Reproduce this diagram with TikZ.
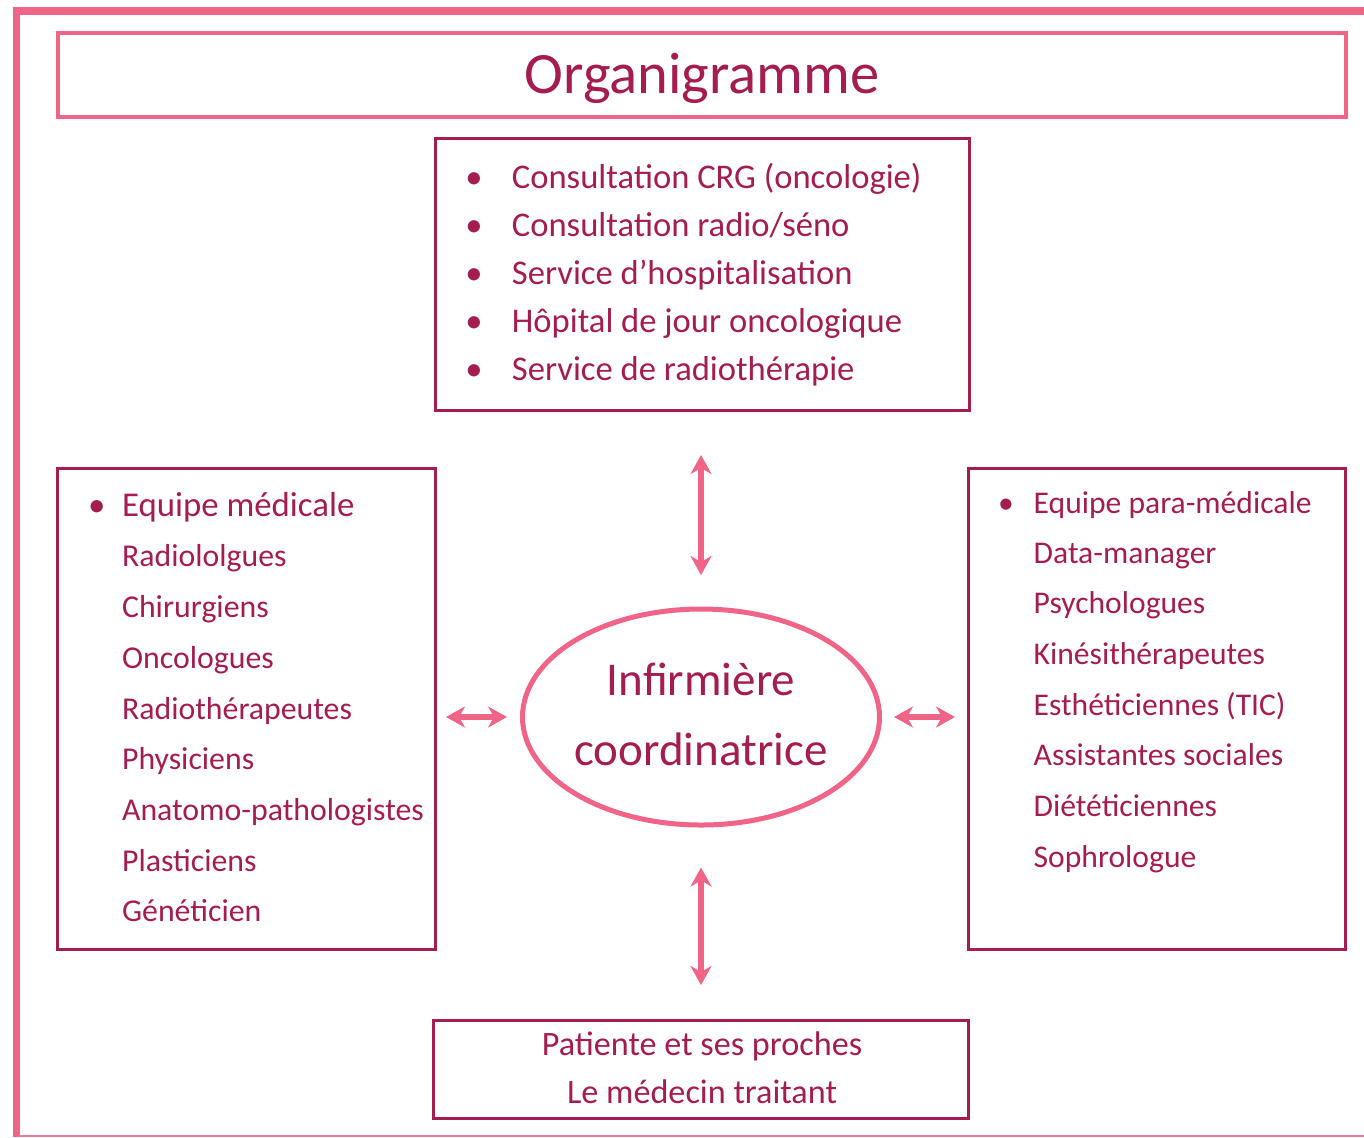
\documentclass[tikz,border=0pt]{standalone}
\usepackage{fontspec}
\setmainfont{Carlito}
\usepackage{tikz}
\usetikzlibrary{shapes.geometric}
\usetikzlibrary{arrows.meta}
\definecolor{rosefr}{HTML}{F06487}
\definecolor{bordeaux}{HTML}{A51C50}
\tikzset{>={Stealth[length=9.5pt,width=10.5pt,inset=3pt]}}

\begin{document}
\begin{tikzpicture}[x=0.5pt,y=-0.5pt,line join=miter,
	cadre/.style={draw=bordeaux,line width=1.5pt,inner sep=0pt,outer sep=0pt},
	texte/.style={inner sep=0pt,text=bordeaux},
	liste/.style={texte,anchor=base west,font=\fontsize{17.3}{20}\selectfont},
	listep/.style={texte,anchor=base west,font=\fontsize{15.8}{19}\selectfont},
	puce/.style={texte,anchor=base,font=\fontsize{17.3}{20}\selectfont},
	lien/.style={<->,draw=rosefr,fill=rosefr,line width=2.8pt}]
		\useasboundingbox (0,0) rectangle (1364,1137);
		% cadre general
		\draw[rosefr,line width=3.8pt] (16.3,1137) -- (16.3,10.7) -- (1364,10.7);
		\draw[rosefr!85,line width=0.8pt] (18,1136.2) -- (1364,1136.2);
		% titre
		\node[draw=rosefr,line width=2pt,minimum width=644pt,minimum height=42pt,inner sep=0pt,outer sep=0pt] (titre) at (702,75) {};
		\node[texte,anchor=base,font=\fontsize{29.3}{34}\selectfont] (titretxt) at (702,93.3) {Organigramme};
		% services
		\node[cadre,minimum width=267pt,minimum height=136pt] (services) at (702,274) {};
		\node[puce] (ps1) at (474,188.3) {\textbullet};
		\node[puce] (ps2) at (474,236.3) {\textbullet};
		\node[puce] (ps3) at (474,284.3) {\textbullet};
		\node[puce] (ps4) at (474,332.3) {\textbullet};
		\node[puce] (ps5) at (474,380.3) {\textbullet};
		\node[liste] (s1) at (511.5,188.3) {Consultation CRG (oncologie)};
		\node[liste] (s2) at (511.5,236.3) {Consultation radio/séno};
		\node[liste] (s3) at (511.5,284.3) {Service d’hospitalisation};
		\node[liste] (s4) at (511.5,332.3) {Hôpital de jour oncologique};
		\node[liste] (s5) at (511.5,380.3) {Service de radiothérapie};
		% equipe medicale
		\node[cadre,minimum width=189pt,minimum height=240.5pt] (medicale) at (246,708.5) {};
		\node[puce,font=\fontsize{17.4}{20}\selectfont] (pm) at (96.7,516) {\textbullet};
		\node[liste,font=\fontsize{17.4}{20}\selectfont] (m0) at (121.7,516) {Equipe médicale};
		\node[listep,font=\fontsize{15.9}{19}\selectfont] (m1) at (121.7,566.7) {Radiololgues};
		\node[listep,font=\fontsize{15.9}{19}\selectfont] (m2) at (121.7,617) {Chirurgiens};
		\node[listep,font=\fontsize{15.9}{19}\selectfont] (m3) at (121.7,668) {Oncologues};
		\node[listep,font=\fontsize{15.9}{19}\selectfont] (m4) at (121.7,719) {Radiothérapeutes};
		\node[listep,font=\fontsize{15.9}{19}\selectfont] (m5) at (121.7,769) {Physiciens};
		\node[listep,font=\fontsize{15.9}{19}\selectfont] (m6) at (121.7,820) {Anatomo-pathologistes};
		\node[listep,font=\fontsize{15.9}{19}\selectfont] (m7) at (121.7,871) {Plasticiens};
		\node[listep,font=\fontsize{15.9}{19}\selectfont] (m8) at (121.7,921) {Généticien};
		% equipe para-medicale
		\node[cadre,minimum width=188.5pt,minimum height=240.5pt] (paramed) at (1156.5,708.5) {};
		\node[puce,font=\fontsize{15.8}{19}\selectfont] (pp) at (1006,513.3) {\textbullet};
		\node[listep] (p0) at (1033.3,513.3) {Equipe para-médicale};
		\node[listep] (p1) at (1033.3,563.3) {Data-manager};
		\node[listep] (p2) at (1033.3,613.5) {Psychologues};
		\node[listep] (p3) at (1033.3,664.5) {Kinésithérapeutes};
		\node[listep] (p4) at (1033.3,715.5) {Esthéticiennes (TIC)};
		\node[listep] (p5) at (1033.3,765.5) {Assistantes sociales};
		\node[listep] (p6) at (1033.3,816.5) {Diététiciennes};
		\node[listep] (p7) at (1033.3,867.5) {Sophrologue};
		% infirmiere
		\node[ellipse,draw=rosefr,line width=2.5pt,minimum width=178.5pt,minimum height=108pt,inner sep=0pt,outer sep=0pt] (infirmiere) at (701,717) {};
		\node[texte,anchor=base,font=\fontsize{23.5}{28}\selectfont] (inf1) at (701,695) {Infirmière};
		\node[texte,anchor=base,font=\fontsize{23.5}{28}\selectfont] (inf2) at (701,765) {coordinatrice};
		% patiente
		\node[cadre,minimum width=267.5pt,minimum height=49pt] (patiente) at (700.5,1069) {};
		\node[texte,anchor=base,font=\fontsize{17.1}{20}\selectfont] (pat1) at (702,1055) {Patiente et ses proches};
		\node[texte,anchor=base,font=\fontsize{17.1}{20}\selectfont] (pat2) at (702,1103.3) {Le médecin traitant};
		% liens
		\draw[lien,shorten <=22.5pt,shorten >=17pt] (infirmiere.north |- services.south) -- (infirmiere.north);
		\draw[lien,shorten <=21.25pt,shorten >=17.5pt] (infirmiere.south) -- (infirmiere.south |- patiente.north);
		\draw[lien,shorten <=5.5pt,shorten >=7.75pt] (medicale.east |- infirmiere.west) -- (infirmiere.west);
		\draw[lien,shorten <=7.25pt,shorten >=6.5pt] (infirmiere.east) -- (infirmiere.east -| paramed.west);
		
\end{tikzpicture}
\end{document}
